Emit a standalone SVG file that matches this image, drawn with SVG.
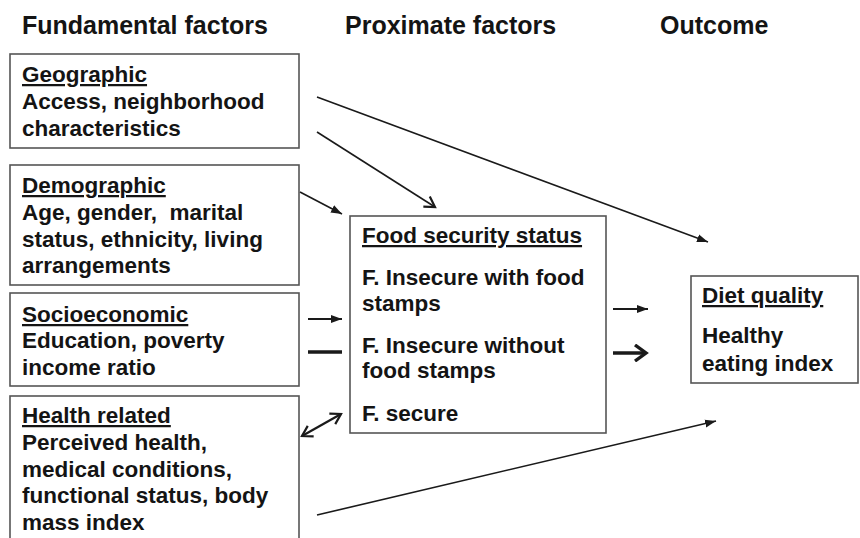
<svg xmlns="http://www.w3.org/2000/svg" width="860" height="538" viewBox="0 0 860 538">
<style>
.t{font-family:"Liberation Sans",Arial,sans-serif;font-weight:bold;fill:#141414;font-size:22.5px}
.h{font-size:25px}
.u{text-decoration:underline}
.box{fill:#fff;stroke:#555;stroke-width:1.6}
.c{stroke:#1a1a1a;stroke-width:1.6;fill:none}
.m{stroke-width:2.2}
.k{stroke-width:3.6}
</style>
<defs>
<marker id="fa" markerUnits="userSpaceOnUse" markerWidth="12" markerHeight="10" refX="11" refY="5" orient="auto">
<path d="M0,1 L11,5 L0,9 z" fill="#1a1a1a"/>
</marker>
<marker id="va" markerUnits="userSpaceOnUse" markerWidth="14" markerHeight="14" refX="11" refY="7" orient="auto-start-reverse">
<path d="M1,1 L11,7 L1,13" fill="none" stroke="#1a1a1a" stroke-width="2.2"/>
</marker>
<marker id="ta" markerUnits="userSpaceOnUse" markerWidth="16" markerHeight="18" refX="13" refY="9" orient="auto">
<path d="M2,1 L13,9 L2,17" fill="none" stroke="#1a1a1a" stroke-width="3.4"/>
</marker>
</defs>
<rect width="860" height="538" fill="#fff"/>
<g id="headers">
<text class="t h" x="22" y="34">Fundamental factors</text>
<text class="t h" x="345" y="34">Proximate factors</text>
<text class="t h" x="660" y="34">Outcome</text>
</g>
<g id="geographic">
<rect class="box" x="10" y="54" width="289" height="94"/>
<text class="t" x="22" y="82"><tspan class="u">Geographic</tspan><tspan x="22" y="109">Access, neighborhood</tspan><tspan x="22" y="136">characteristics</tspan></text>
</g>
<g id="demographic">
<rect class="box" x="10" y="165" width="289" height="120"/>
<text class="t" x="22" y="193"><tspan class="u">Demographic</tspan><tspan x="22" y="220" xml:space="preserve">Age, gender,  marital</tspan><tspan x="22" y="247">status, ethnicity, living</tspan><tspan x="22" y="273">arrangements</tspan></text>
</g>
<g id="socioeconomic">
<rect class="box" x="10" y="293" width="289" height="93"/>
<text class="t" x="22" y="322"><tspan class="u">Socioeconomic</tspan><tspan x="22" y="348">Education, poverty</tspan><tspan x="22" y="375">income ratio</tspan></text>
</g>
<g id="health">
<rect class="box" x="10" y="396" width="289" height="150"/>
<text class="t" x="22" y="423"><tspan class="u">Health related</tspan><tspan x="22" y="450">Perceived health,</tspan><tspan x="22" y="477">medical conditions,</tspan><tspan x="22" y="503">functional status, body</tspan><tspan x="22" y="530">mass index</tspan></text>
</g>
<g id="foodsecurity">
<rect class="box" x="350" y="216" width="256" height="217"/>
<text class="t" x="362" y="243"><tspan class="u">Food security status</tspan><tspan x="362" y="285">F. Insecure with food</tspan><tspan x="362" y="311">stamps</tspan><tspan x="362" y="353">F. Insecure without</tspan><tspan x="362" y="378">food stamps</tspan><tspan x="362" y="421">F. secure</tspan></text>
</g>
<g id="dietquality">
<rect class="box" x="691" y="276" width="167" height="107"/>
<text class="t" x="702" y="303"><tspan class="u">Diet quality</tspan><tspan x="702" y="343">Healthy</tspan><tspan x="702" y="371">eating index</tspan></text>
</g>
<g id="connectors">
<line class="c" x1="317" y1="97" x2="708" y2="242" marker-end="url(#fa)"/>
<line class="c" x1="317" y1="132" x2="435" y2="207" marker-end="url(#va)"/>
<line class="c" x1="300" y1="192" x2="342" y2="214" marker-end="url(#fa)"/>
<line class="c m" x1="308" y1="319" x2="342" y2="319" marker-end="url(#fa)"/>
<line class="c k" x1="308" y1="352" x2="342" y2="352"/>
<line class="c m" x1="302" y1="436" x2="341" y2="414" marker-start="url(#va)" marker-end="url(#va)"/>
<line class="c" x1="317" y1="515" x2="716" y2="421" marker-end="url(#fa)"/>
<line class="c m" x1="613" y1="309" x2="648" y2="309" marker-end="url(#fa)"/>
<line class="c k" x1="613" y1="353" x2="646" y2="353" marker-end="url(#ta)"/>
</g>
</svg>
